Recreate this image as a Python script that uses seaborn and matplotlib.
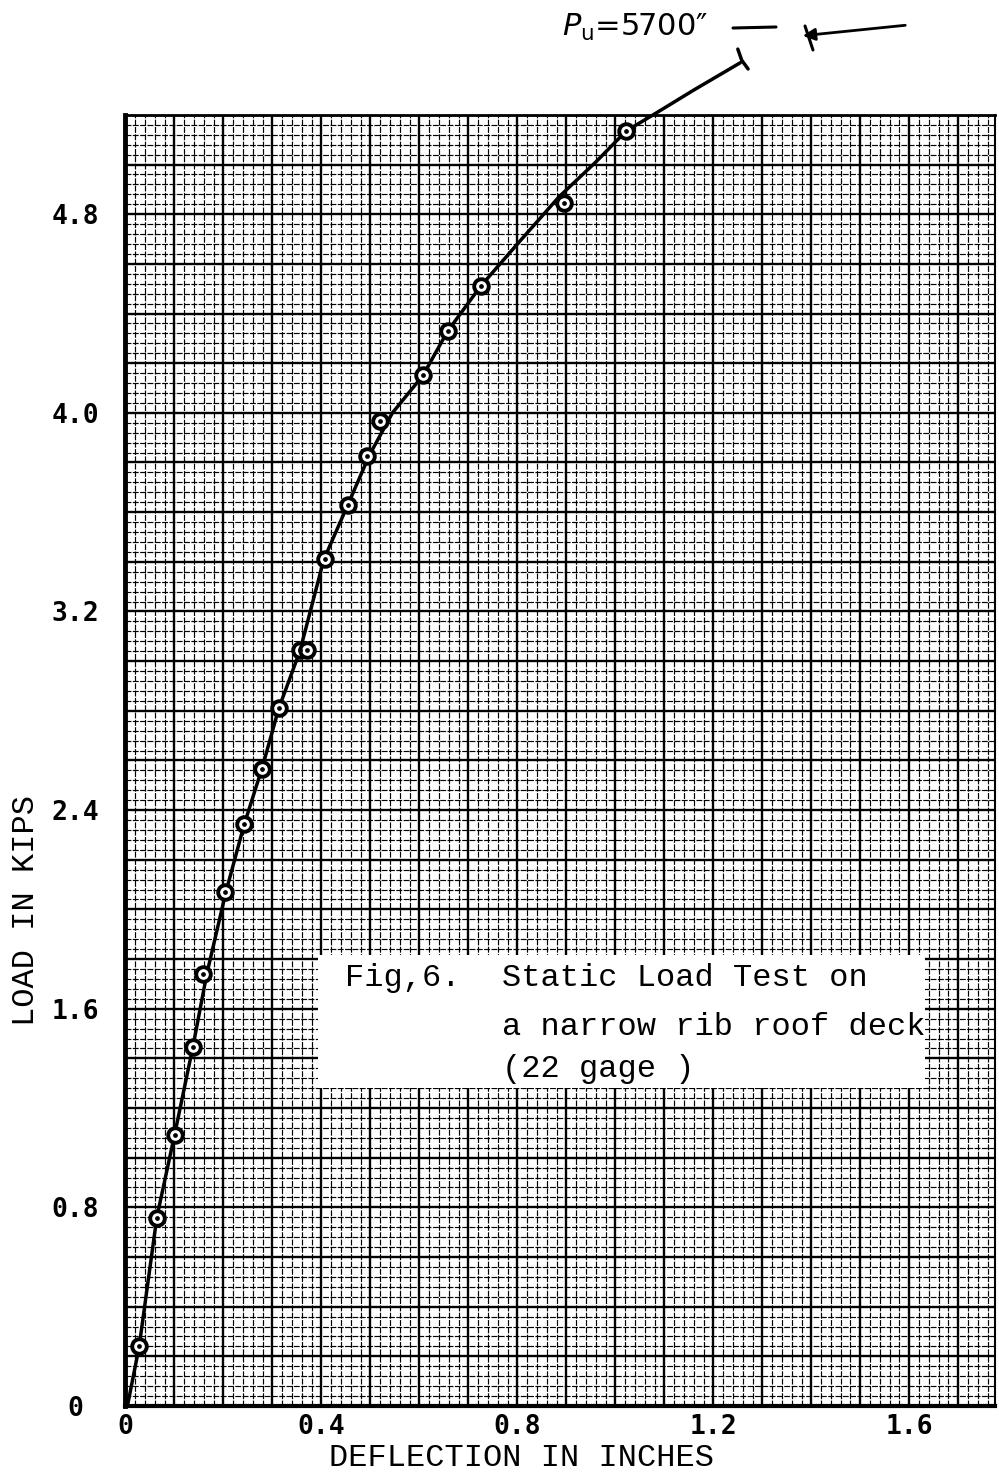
import numpy as np
import pandas as pd
import matplotlib
matplotlib.use("Agg")
import matplotlib.pyplot as plt
from matplotlib.ticker import MultipleLocator, FuncFormatter
from matplotlib.patches import Rectangle
import seaborn as sns

# ---- data ----
point_x = [0.028, 0.064, 0.101, 0.138, 0.158, 0.203, 0.242, 0.279, 0.313,
           0.357, 0.370, 0.407, 0.454, 0.493, 0.519, 0.607, 0.658, 0.725,
           0.895, 1.022]
point_y = [0.242, 0.758, 1.092, 1.447, 1.741, 2.072, 2.342, 2.567, 2.813,
           3.043, 3.043, 3.410, 3.628, 3.825, 3.966, 4.152, 4.329, 4.510,
           4.845, 5.135]

curve_x = [0.004, 0.028, 0.064, 0.100, 0.138, 0.166, 0.205, 0.242, 0.279,
           0.313, 0.356, 0.405, 0.454, 0.498, 0.545, 0.607, 0.658, 0.725,
           0.800, 0.885, 0.960, 1.022, 1.077, 1.160, 1.255]
curve_y = [0.0, 0.24, 0.76, 1.09, 1.45, 1.74, 2.07, 2.34, 2.57,
           2.81, 3.04, 3.41, 3.63, 3.83, 4.00, 4.15, 4.33, 4.51,
           4.68, 4.87, 5.01, 5.135, 5.20, 5.30, 5.41]

hook_x = [1.250, 1.258, 1.271]
hook_y = [5.465, 5.42, 5.385]

x_ticklabels = ["0", "0.4", "0.8", "1.2", "1.6"]
y_ticklabels = ["0", "0.8", "1.6", "2.4", "3.2", "4.0", "4.8"]

# ---- style ----
sns.set_theme(style="white")
plt.rcParams["font.family"] = ["DejaVu Sans"]
plt.rcParams["mathtext.fontset"] = "dejavusans"

fig = plt.figure(figsize=(9.99, 14.75), dpi=100)
fig.patch.set_facecolor("white")
ax = fig.add_axes([0.1256, 0.0468, 0.8704, 0.8753])
ax.set_facecolor("white")

ax.set_xlim(0, 1.775)
ax.set_ylim(0, 5.2)

ax.xaxis.set_major_locator(MultipleLocator(0.1))
ax.xaxis.set_minor_locator(MultipleLocator(0.02))
ax.yaxis.set_major_locator(MultipleLocator(0.2))
ax.yaxis.set_minor_locator(MultipleLocator(0.04))

xl = {round(float(s), 2): s for s in x_ticklabels}
yl = {round(float(s), 2): s for s in y_ticklabels}
ax.xaxis.set_major_formatter(FuncFormatter(lambda v, p: xl.get(round(v, 2), "")))
ax.yaxis.set_major_formatter(FuncFormatter(lambda v, p: yl.get(round(v, 2), "")))

ax.grid(which="major", color="black", linewidth=1.7, zorder=0)
ax.grid(which="minor", color="black", linewidth=0.85,
        linestyle=(0, (5, 1.2)), zorder=0)
ax.set_axisbelow(True)

ax.tick_params(axis="both", which="major", direction="out", length=3,
               width=1.2, color="black", labelsize=19, labelcolor="black")
ax.tick_params(axis="both", which="minor", length=0)
ax.tick_params(axis="x", pad=3)
ax.tick_params(axis="y", pad=33)
for t in ax.yaxis.get_major_ticks():
    t.label1.set_horizontalalignment("center")
for lab in ax.get_xticklabels() + ax.get_yticklabels():
    lab.set_family("DejaVu Sans Mono")
    lab.set_weight("bold")

for side, lw in [("left", 3.5), ("bottom", 3.0), ("top", 2.0), ("right", 1.5)]:
    ax.spines[side].set_visible(True)
    ax.spines[side].set_color("black")
    ax.spines[side].set_linewidth(lw)

# ---- curve and points ----
df_curve = pd.DataFrame({"x": curve_x, "y": curve_y})
df_hook = pd.DataFrame({"x": hook_x, "y": hook_y})
df_pts = pd.DataFrame({"x": point_x, "y": point_y})

sns.lineplot(data=df_curve, x="x", y="y", sort=False, color="black",
             linewidth=2.5, ax=ax, zorder=4, clip_on=False)
sns.lineplot(data=df_hook, x="x", y="y", sort=False, color="black",
             linewidth=2.5, ax=ax, zorder=4, clip_on=False)
ax.plot(df_pts["x"], df_pts["y"], linestyle="none", marker="o",
        markersize=10.5, markerfacecolor="white", markeredgecolor="black",
        markeredgewidth=2.8, zorder=5)
ax.plot(df_pts["x"], df_pts["y"], linestyle="none", marker="o",
        markersize=2.4, color="black", zorder=6)

ax.set_xlabel("DEFLECTION IN INCHES", family="Liberation Mono", fontsize=23,
              color="black")
ax.set_ylabel("LOAD IN KIPS", family="Liberation Mono", fontsize=23,
              color="black")
ax.xaxis.set_label_coords(0.456, -0.029)
ax.yaxis.set_label_coords(-0.097, 0.384)

# ---- caption box ----
ax.add_patch(Rectangle((0.2214, 0.2463), 0.6981, 0.1030,
                       transform=ax.transAxes, facecolor="white",
                       edgecolor="none", zorder=7))
cap_kw = dict(transform=ax.transAxes, family="Liberation Mono", fontsize=23,
              color="black", va="baseline", ha="left", zorder=8)
ax.text(0.2524, 0.325, "Fig,6.", **cap_kw)
ax.text(0.433, 0.325, "Static Load Test on", **cap_kw)
ax.text(0.433, 0.287, "a narrow rib roof deck", **cap_kw)
ax.text(0.433, 0.255, "(22 gage )", **cap_kw)

# ---- P_u annotation above the chart ----
def fx(px):
    return px / 999.0

def fy(py):
    return 1.0 - py / 1475.0

fig.text(fx(562), fy(36), r"$P_{\mathregular{u}}$" + "=5700\u2033",
         fontsize=22, va="baseline", ha="left", color="black")
fig.add_artist(plt.Line2D([fx(733), fx(776)], [fy(28), fy(27)],
                          color="black", linewidth=2.2))
fig.add_artist(plt.Line2D([fx(805), fx(813)], [fy(26), fy(50)],
                          color="black", linewidth=2.2))
ax.annotate("", xy=(fx(800), fy(36)), xycoords="figure fraction",
            xytext=(fx(908), fy(25)), textcoords="figure fraction",
            arrowprops=dict(arrowstyle="-|>", color="black", linewidth=2.0,
                            mutation_scale=18))

fig.savefig("out.png", dpi=100, facecolor="white")
